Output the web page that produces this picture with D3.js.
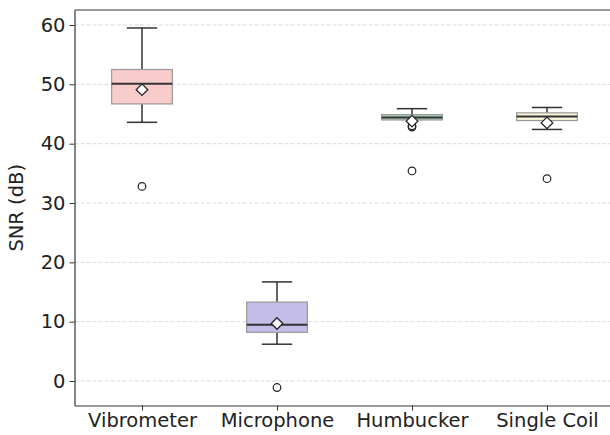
<!DOCTYPE html>
<html>
<head>
<meta charset="utf-8">
<script src="https://cdn.jsdelivr.net/npm/d3@7"></script>
<style>
  body { margin: 0; background: #fff; }
  text { font-family: "DejaVu Sans", sans-serif; fill: #222; }
</style>
</head>
<body>
<div id="chart"></div>
<script>
// data
const sensors = ["Vibrometer", "Microphone", "Humbucker", "Single Coil"];
const whiskerLow = [43.6, 6.2, 44.1, 42.4];
const q1 = [46.7, 8.2, 44.0, 43.9];
const medians = [50.1, 9.5, 44.4, 44.6];
const q3 = [52.5, 13.3, 44.9, 45.2];
const whiskerHigh = [59.5, 16.7, 45.9, 46.1];
const means = [49.1, 9.7, 43.8, 43.5];
const outliers = [[32.8], [-1.1], [43.0, 42.8, 35.4], [34.1]];
const fills = ["#f9cccc", "#c3bde8", "#abd1bc", "#f9f5d9"];
const yTicks = [0, 10, 20, 30, 40, 50, 60];

const width = 610, height = 435;
const margin = { top: 10, right: -4.5, bottom: 29.5, left: 74.5 };

const svg = d3.select("#chart").append("svg")
    .attr("width", width)
    .attr("height", height);

// x in box positions 1..4, limits 0.5..4.5 like matplotlib
const x = d3.scaleLinear()
    .domain([0.5, 4.5])
    .range([margin.left, width - margin.right]);

const y = d3.scaleLinear()
    .domain([-4.13, 62.53])
    .range([height - margin.bottom, margin.top]);

const unit = x(2) - x(1);
const boxW = unit * 0.45;
const capW = boxW / 2;

// grid
svg.append("g")
    .selectAll("line")
    .data(yTicks)
    .join("line")
    .attr("x1", margin.left)
    .attr("x2", width - margin.right)
    .attr("y1", d => y(d))
    .attr("y2", d => y(d))
    .attr("stroke", "#d0d0d0")
    .attr("stroke-width", 0.8)
    .attr("stroke-dasharray", "4,2");

const data = sensors.map((s, i) => ({
    name: s, pos: i + 1,
    lo: whiskerLow[i], q1: q1[i], med: medians[i], q3: q3[i], hi: whiskerHigh[i],
    mean: means[i], out: outliers[i], fill: fills[i]
}));

const g = svg.append("g").selectAll("g")
    .data(data)
    .join("g");

// whiskers
g.append("line")
    .attr("x1", d => x(d.pos)).attr("x2", d => x(d.pos))
    .attr("y1", d => y(d.q3)).attr("y2", d => y(d.hi))
    .attr("stroke", "#333").attr("stroke-width", 1.5);
g.append("line")
    .attr("x1", d => x(d.pos)).attr("x2", d => x(d.pos))
    .attr("y1", d => y(d.q1)).attr("y2", d => y(d.lo))
    .attr("stroke", "#333").attr("stroke-width", 1.5);
// caps
g.selectAll(".cap")
    .data(d => [d.lo, d.hi].map(v => ({ pos: d.pos, v })))
    .join("line")
    .attr("class", "cap")
    .attr("x1", d => x(d.pos) - capW / 2).attr("x2", d => x(d.pos) + capW / 2)
    .attr("y1", d => y(d.v)).attr("y2", d => y(d.v))
    .attr("stroke", "#333").attr("stroke-width", 1.5);

// boxes
g.append("rect")
    .attr("x", d => x(d.pos) - boxW / 2)
    .attr("width", boxW)
    .attr("y", d => y(d.q3))
    .attr("height", d => y(d.q1) - y(d.q3))
    .attr("fill", d => d.fill)
    .attr("stroke", "#999")
    .attr("stroke-width", 1.2);

// medians
g.append("line")
    .attr("x1", d => x(d.pos) - boxW / 2).attr("x2", d => x(d.pos) + boxW / 2)
    .attr("y1", d => y(d.med)).attr("y2", d => y(d.med))
    .attr("stroke", "#333").attr("stroke-width", 2);

// outliers
g.selectAll(".out")
    .data(d => d.out.map(v => ({ pos: d.pos, v })))
    .join("circle")
    .attr("class", "out")
    .attr("cx", d => x(d.pos))
    .attr("cy", d => y(d.v))
    .attr("r", 3.8)
    .attr("fill", "none")
    .attr("stroke", "#222")
    .attr("stroke-width", 1.2);

// means (diamond)
g.append("path")
    .attr("d", d3.symbol(d3.symbolDiamond2, 85))
    .attr("transform", d => `translate(${x(d.pos)},${y(d.mean)})`)
    .attr("fill", "#fff")
    .attr("stroke", "#222")
    .attr("stroke-width", 1.3);

// axes
const yAxis = svg.append("g")
    .attr("transform", `translate(${margin.left},0)`)
    .call(d3.axisLeft(y).tickValues(yTicks).tickSize(5).tickSizeOuter(0).tickPadding(4));
const xAxis = svg.append("g")
    .attr("transform", `translate(0,${height - margin.bottom})`)
    .call(d3.axisBottom(x).tickValues([1, 2, 3, 4]).tickFormat((d, i) => sensors[i]).tickSize(5).tickSizeOuter(0).tickPadding(3));

[xAxis, yAxis].forEach(a => {
    a.select(".domain").attr("stroke", "#333").attr("stroke-width", 1.2);
    a.selectAll(".tick line").attr("stroke", "#333").attr("stroke-width", 1);
    a.selectAll(".tick text").attr("font-size", 19.5).attr("fill", "#1a1a1a")
        .style("font-family", "DejaVu Sans");
});

// top spine
svg.append("line")
    .attr("x1", margin.left).attr("x2", width)
    .attr("y1", margin.top).attr("y2", margin.top)
    .attr("stroke", "#333").attr("stroke-width", 1.2);

// y label
svg.append("text")
    .attr("transform", `translate(23,${(y(62.53) + y(-4.13)) / 2}) rotate(-90)`)
    .attr("text-anchor", "middle")
    .attr("font-size", 19.5)
    .attr("fill", "#1a1a1a")
    .text("SNR (dB)");
</script>
</body>
</html>
